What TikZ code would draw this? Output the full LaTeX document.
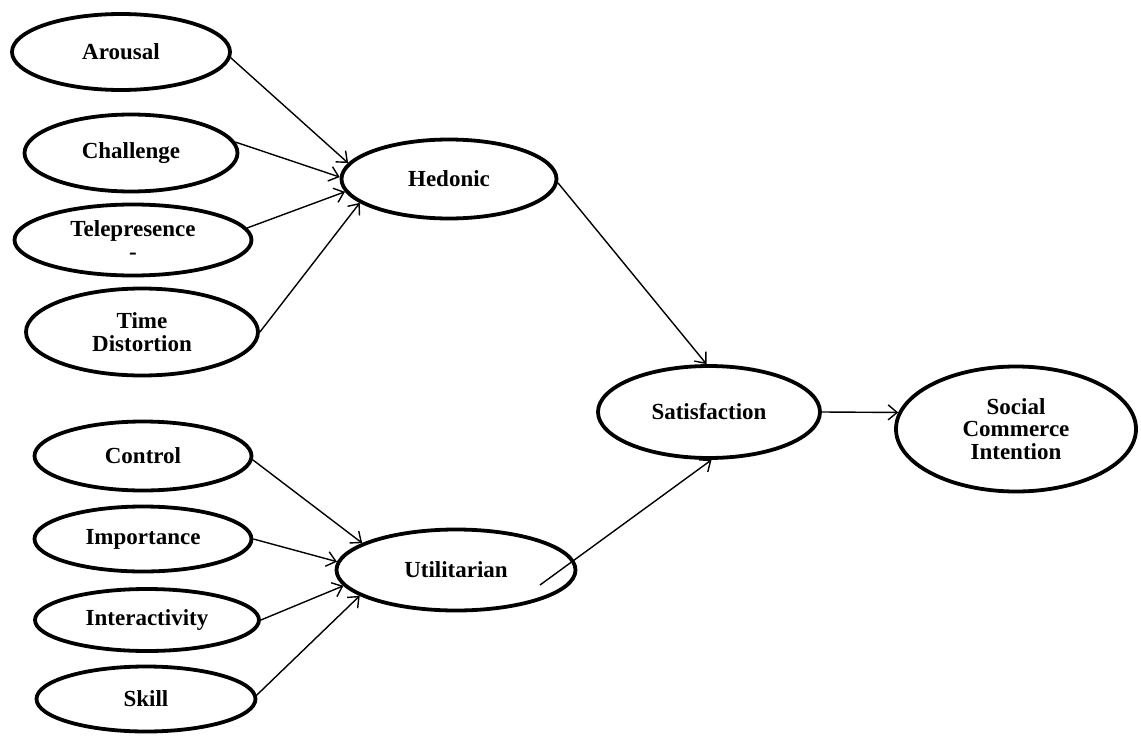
\documentclass[tikz,border=0pt]{standalone}
\usepackage{fontspec}
\setmainfont{Liberation Serif}
\usetikzlibrary{shapes.geometric,arrows.meta}
\tikzset{
  construct/.style={ellipse, draw, line width=3.8pt, inner sep=0pt, align=center,
    font=\fontsize{23}{22.5}\selectfont\bfseries},
  link/.style={line width=1.4pt, -{Straight Barb[length=9pt,width=15pt,line width=1.4pt]}}
}
\begin{document}
\begin{tikzpicture}[x=1pt,y=-1pt]
\useasboundingbox (0,0) rectangle (1141,736);
% first-order constructs (hedonic side)
\node[construct, minimum width=218pt, minimum height=76pt] (arousal) at (121,52) {Arousal};
\node[construct, minimum width=213pt, minimum height=77pt] (challenge) at (131,153) {Challenge};
\node[construct, minimum width=237pt, minimum height=71pt] (tele) at (133,240) {Telepresence\\-};
\node[construct, minimum width=232pt, minimum height=87pt] (time) at (142,332) {Time\\Distortion};
% first-order constructs (utilitarian side)
\node[construct, minimum width=217pt, minimum height=69pt] (control) at (143,456) {Control};
\node[construct, minimum width=217pt, minimum height=65pt] (importance) at (143,539) {Importance};
\node[construct, minimum width=224pt, minimum height=62pt] (inter) at (147,620) {Interactivity};
\node[construct, minimum width=219pt, minimum height=65pt] (skill) at (146,699) {Skill};
% second-order constructs
\node[construct, minimum width=215pt, minimum height=79pt] (hedonic) at (449,179) {Hedonic};
\node[construct, minimum width=239pt, minimum height=81pt] (util) at (456,570) {Utilitarian};
\node[construct, minimum width=222pt, minimum height=92pt] (sat) at (709,412) {Satisfaction};
\node[construct, minimum width=240pt, minimum height=125pt] (sci) at (1016,429) {Social\\Commerce\\Intention};
\coordinate (ustart) at (540,585);
% connectors
\draw[link] (arousal.-3) -- (hedonic.171);
\draw[link] (challenge.6) -- (hedonic.179);
\draw[link] (tele.6) -- (hedonic.187);
\draw[link] (time.east) -- (hedonic.195);
\draw[link] (control.-2) -- (util.164);
\draw[link] (importance.east) -- (util.176);
\draw[link] (inter.east) -- (util.188);
\draw[link] (skill.2) -- (util.195);
\draw[link] (hedonic.-2) -- (sat.93);
\draw[link] (ustart) -- (sat.-87);
\draw[link] (sat.east) -- (sci.172);
\end{tikzpicture}
\end{document}
